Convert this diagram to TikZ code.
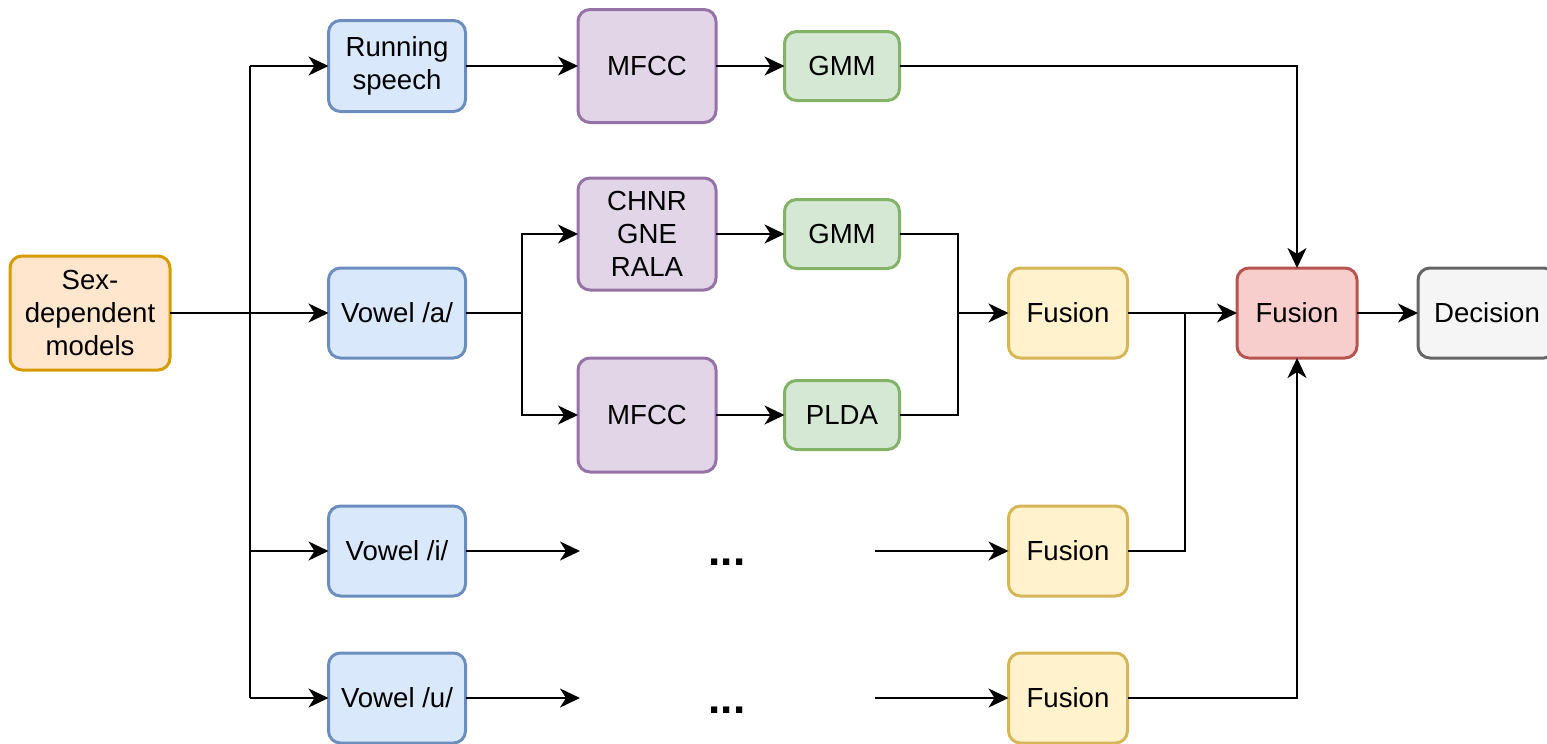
\documentclass[tikz,border=0pt]{standalone}
\usepackage{fontspec}
\setmainfont{Liberation Sans}
\usetikzlibrary{arrows.meta}
\definecolor{orF}{HTML}{FFE6CC}\definecolor{orD}{HTML}{D79B00}
\definecolor{blF}{HTML}{DAE8FC}\definecolor{blD}{HTML}{6C8EBF}
\definecolor{puF}{HTML}{E1D5E7}\definecolor{puD}{HTML}{9673A6}
\definecolor{grF}{HTML}{D5E8D4}\definecolor{grD}{HTML}{82B366}
\definecolor{yeF}{HTML}{FFF2CC}\definecolor{yeD}{HTML}{D6B656}
\definecolor{reF}{HTML}{F8CECC}\definecolor{reD}{HTML}{B85450}
\definecolor{gyF}{HTML}{F5F5F5}\definecolor{gyD}{HTML}{666666}
\tikzset{
  box/.style={draw, rounded corners=6pt, line width=1.5pt, align=center,
    inner sep=0pt, outer sep=0pt, font=\fontsize{13.8}{16.5}\selectfont},
  bsize/.style 2 args={minimum width=#1*0.5pt, minimum height=#2*0.5pt},
  orbox/.style={box, fill=orF, draw=orD},
  blbox/.style={box, fill=blF, draw=blD},
  pubox/.style={box, fill=puF, draw=puD},
  grbox/.style={box, fill=grF, draw=grD},
  yebox/.style={box, fill=yeF, draw=yeD},
  rebox/.style={box, fill=reF, draw=reD},
  gybox/.style={box, fill=gyF, draw=gyD},
  conn/.style={line width=1pt, black},
  arr/.style={conn, -{Stealth[length=10pt,width=9.5pt,inset=3pt]}},
  dots/.style={font=\fontsize{22}{24}\selectfont\bfseries, inner sep=0pt}
}
\begin{document}
\begin{tikzpicture}[x=0.5pt, y=-0.5pt]
\useasboundingbox (0,0) rectangle (1547,744);
% nodes
\node[orbox, bsize={160}{114}] (sex) at (90,313) {Sex-\\dependent\\models};
\node[blbox, bsize={137}{91}] (rs) at (397,66) {Running\\speech};
\node[blbox, bsize={137}{90}] (va) at (397,313) {Vowel /a/};
\node[blbox, bsize={137}{90}] (vi) at (397,551) {Vowel /i/};
\node[blbox, bsize={137}{90}] (vu) at (397,698) {Vowel /u/};
\node[pubox, bsize={138}{113}] (mf1) at (647,66) {MFCC};
\node[pubox, bsize={138}{112}] (chn) at (647,234) {CHNR\\GNE\\RALA};
\node[pubox, bsize={138}{114}] (mf2) at (647,415) {MFCC};
\node[grbox, bsize={115}{69}] (gm1) at (842,66) {GMM};
\node[grbox, bsize={115}{69}] (gm2) at (842,234) {GMM};
\node[grbox, bsize={115}{69}] (pl) at (842,415) {PLDA};
\node[yebox, bsize={119}{90}] (fa) at (1068,313) {Fusion};
\node[yebox, bsize={119}{90}] (fi) at (1068,551) {Fusion};
\node[yebox, bsize={119}{90}] (fu) at (1068,698) {Fusion};
\node[rebox, bsize={120}{90}] (fr) at (1297,313) {Fusion};
\node[gybox, bsize={138}{90}] (dec) at (1487,313) {Decision};
\node[dots] (d1) at (727,562) {...};
\node[dots] (d2) at (727,710) {...};
% coordinates
\coordinate (t1) at (250,66);
\coordinate (t3) at (250,551);
\coordinate (t4) at (250,698);
\coordinate (b) at (522,313);
\coordinate (m) at (958,313);
\coordinate (j) at (1185,313);
\coordinate (ie) at (580,551);
\coordinate (is) at (875,551);
\coordinate (ue) at (580,698);
\coordinate (us) at (875,698);
% connectors
\draw[conn] (t1) -- (t4);
\draw[arr] (sex) -- (va);
\draw[arr] (t1) -- (rs);
\draw[arr] (t3) -- (vi);
\draw[arr] (t4) -- (vu);
\draw[arr] (rs) -- (mf1);
\draw[arr] (mf1) -- (gm1);
\draw[arr] (gm1) -| (fr);
\draw[conn] (va) -- (b);
\draw[arr] (b) |- (chn);
\draw[arr] (b) |- (mf2);
\draw[arr] (chn) -- (gm2);
\draw[arr] (mf2) -- (pl);
\draw[conn] (gm2) -| (m);
\draw[conn] (pl) -| (m);
\draw[arr] (m) -- (fa);
\draw[arr] (fa) -- (fr);
\draw[conn] (fi) -| (j);
\draw[arr] (fu) -| (fr);
\draw[arr] (fr) -- (dec);
\draw[arr] (vi) -- (ie);
\draw[arr] (is) -- (fi);
\draw[arr] (vu) -- (ue);
\draw[arr] (us) -- (fu);
\end{tikzpicture}
\end{document}
